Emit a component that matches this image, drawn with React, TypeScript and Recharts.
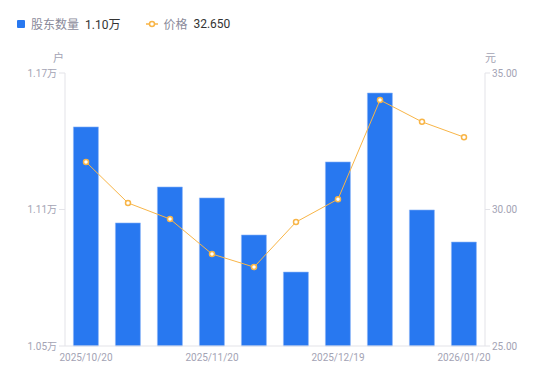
import React from 'react';
import { ComposedChart, Bar, Line, XAxis, YAxis } from 'recharts';

const dates = [
  '2025/10/20', '2025/10/31', '2025/11/10', '2025/11/20', '2025/11/28',
  '2025/12/10', '2025/12/19', '2025/12/31', '2026/01/09', '2026/01/20',
];
const holders = [11463, 11041, 11199, 11151, 10988, 10825, 11309, 11612, 11098, 10957];
const prices = [31.74, 30.24, 29.65, 28.37, 27.89, 29.54, 30.38, 34.01, 33.21, 32.65];
const xTicks = ['2025/10/20', '2025/11/20', '2025/12/19', '2026/01/20'];
const leftTicks = [10500, 11100, 11700];
const rightTicks = [25, 30, 35];

const data = dates.map((d, i) => ({ date: d, holders: holders[i], price: prices[i] }));

const BLUE = '#2878F0';
const ORANGE = '#F8B547';
const font = 'Roboto, "Noto Sans CJK SC", sans-serif';
const tickStyle = { fontSize: 10, fill: '#A3A3B4', fontFamily: font };

const App: React.FC = () => {
  return (
    <div style={{ position: 'absolute', left: 0, top: 0, width: 550, height: 381, background: '#fff', fontFamily: font }}>
      {/* legend */}
      <div style={{ position: 'absolute', left: 17, top: 15, fontSize: 12, display: 'flex', alignItems: 'center', whiteSpace: 'nowrap' }}>
        <span style={{ width: 8, height: 8, background: BLUE, borderRadius: 1, display: 'inline-block' }} />
        <span style={{ color: '#8A8A9A', marginLeft: 6 }}>股东数量</span>
        <span style={{ color: '#333', marginLeft: 6 }}>1.10万</span>
        <svg width={12} height={8} style={{ marginLeft: 26 }}>
          <line x1={0} y1={4} x2={12} y2={4} stroke={ORANGE} strokeWidth={1.5} />
          <circle cx={6} cy={4} r={2.5} fill="#fff" stroke={ORANGE} strokeWidth={1.5} />
        </svg>
        <span style={{ color: '#8A8A9A', marginLeft: 5 }}>价格</span>
        <span style={{ color: '#333', marginLeft: 6 }}>32.650</span>
      </div>
      <span style={{ position: 'absolute', left: 53, top: 49, fontSize: 11, color: '#A3A3B4' }}>户</span>
      <span style={{ position: 'absolute', left: 485, top: 49, fontSize: 11, color: '#A3A3B4' }}>元</span>
      <ComposedChart width={550} height={381} data={data} margin={{ top: 73, right: 5, bottom: 5, left: 5 }} barCategoryGap="20%">
        <XAxis
          dataKey="date"
          ticks={xTicks}
          interval={0}
          tickLine={false}
          axisLine={{ stroke: '#E3E3E8' }}
          tick={tickStyle}
          height={30}
        />
        <YAxis
          yAxisId="left"
          domain={[10500, 11700]}
          ticks={leftTicks}
          tickFormatter={(v: number) => `${(v / 10000).toFixed(2)}万`}
          axisLine={{ stroke: '#E3E3E8' }}
          tickLine={{ stroke: '#E3E3E8' }}
          tickSize={6}
          tick={tickStyle}
          width={60}
        />
        <YAxis
          yAxisId="right"
          orientation="right"
          domain={[25, 35]}
          ticks={rightTicks}
          tickFormatter={(v: number) => v.toFixed(2)}
          axisLine={{ stroke: '#E3E3E8' }}
          tickLine={{ stroke: '#E3E3E8' }}
          tickSize={5}
          tick={tickStyle}
          width={60}
        />
        <Bar yAxisId="left" dataKey="holders" fill={BLUE} stroke="#8DB6F7" strokeWidth={0.6} isAnimationActive={false} />
        <Line
          yAxisId="right"
          dataKey="price"
          type="linear"
          stroke={ORANGE}
          strokeWidth={1}
          dot={{ r: 2.5, fill: '#fff', stroke: ORANGE, strokeWidth: 1.5 }}
          isAnimationActive={false}
        />
      </ComposedChart>
    </div>
  );
};

export default App;
